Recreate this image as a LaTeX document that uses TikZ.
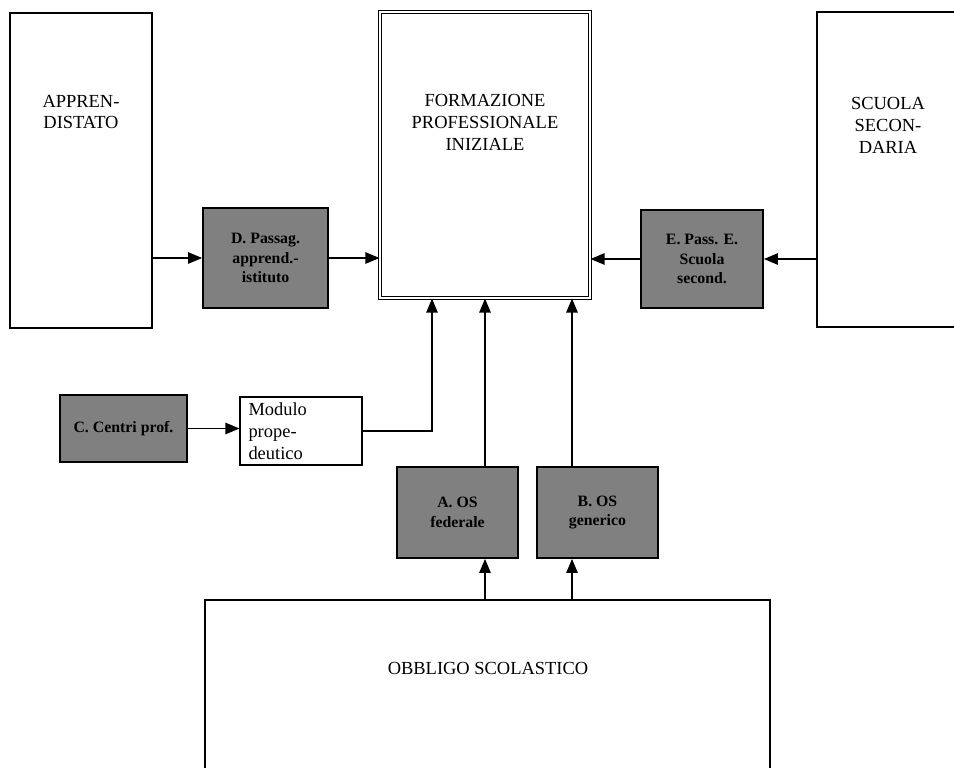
\documentclass[tikz,border=0pt]{standalone}
\usepackage{fontspec}
\setmainfont{Liberation Serif}
\usetikzlibrary{arrows.meta,patterns}

\begin{document}
\begin{tikzpicture}[
  box/.style={draw=black, line width=0.6pt, inner sep=0pt},
  shadebox/.style={draw=black, line width=1pt, fill=black!50, inner sep=2pt,
                   font=\small\bfseries, align=center},
  lbl/.style={font=\fontsize{10.5}{12.5}\selectfont, align=center},
  arr/.style={line width=0.8pt, -{Triangle[length=8pt,width=6.5pt]}},
]
  % page frame (reference proportions 954 x 768)
  \useasboundingbox (0,0) rectangle (19.08,-15.36);

  % the three columns at the top
  \node[box, minimum width=2.84cm, minimum height=6.30cm] (appr) at (1.62,-3.41) {};
  \node[lbl] (apprtxt) at (1.62,-2.24) {APPREN-\\DISTATO};

  \node[box, double, double distance=1.6pt, minimum width=4.20cm, minimum height=5.72cm]
       (fpi) at (9.70,-3.10) {};
  \node[lbl] (fpitxt) at (9.70,-2.44) {FORMAZIONE\\PROFESSIONALE\\INIZIALE};

  \node[box, minimum width=2.86cm, minimum height=6.30cm] (scuola) at (17.77,-3.39) {};
  \node[lbl] (scuolatxt) at (17.76,-2.50) {SCUOLA\\SECON-\\DARIA};

  % passage boxes
  \node[shadebox, minimum width=2.50cm, minimum height=2.00cm] (passD) at (5.31,-5.16)
       {D. Passag.\\apprend.-\\istituto};
  \node[shadebox, minimum width=2.44cm, minimum height=1.96cm] (passE) at (14.04,-5.18)
       {E. Pass. E.\\Scuola\\second.};

  \draw[arr] (appr.east |- passD.west) -- (passD.west);
  \draw[arr] (passD.east) -- (fpi.west |- passD.east);
  \draw[arr] (scuola.west |- passE.east) -- (passE.east);
  \draw[arr] (passE.west) -- (fpi.east |- passE.west);

  % preparatory path
  \node[shadebox, minimum width=2.54cm, minimum height=1.34cm] (centri) at (2.47,-8.57)
       {C. Centri prof.};
  \node[box, minimum width=2.44cm, minimum height=1.36cm, align=left,
        font=\rmfamily\fontsize{10.5}{12.5}\selectfont, text width=2.1cm] (modulo) at (6.02,-8.62)
       {Modulo\\prope-\\deutico};
  \draw[arr] (centri.east) -- (centri.east -| modulo.west);

  \coordinate (turn) at (8.64,-8.62);
  \draw[arr] (modulo.east) -- (turn) -- (turn |- fpi.south);

  % compulsory schooling
  \node[shadebox, minimum width=2.42cm, minimum height=1.82cm] (osA) at (9.15,-10.25)
       {A. OS\\federale};
  \node[shadebox, minimum width=2.42cm, minimum height=1.82cm] (osB) at (11.95,-10.25)
       {B. OS\\generico};

  \node[box, minimum width=11.30cm, minimum height=3.60cm] (obbligo) at (9.75,-13.80) {};
  \node[lbl] (obbligotxt) at (9.76,-13.36) {OBBLIGO SCOLASTICO};

  \coordinate (xa) at (9.70,0);
  \coordinate (xb) at (11.44,0);
  \draw[arr] (xa |- obbligo.north) -- (xa |- osA.south);
  \draw[arr] (xb |- obbligo.north) -- (xb |- osB.south);
  \draw[arr] (xa |- osA.north) -- (xa |- fpi.south);
  \draw[arr] (xb |- osB.north) -- (xb |- fpi.south);

\end{tikzpicture}
\end{document}
